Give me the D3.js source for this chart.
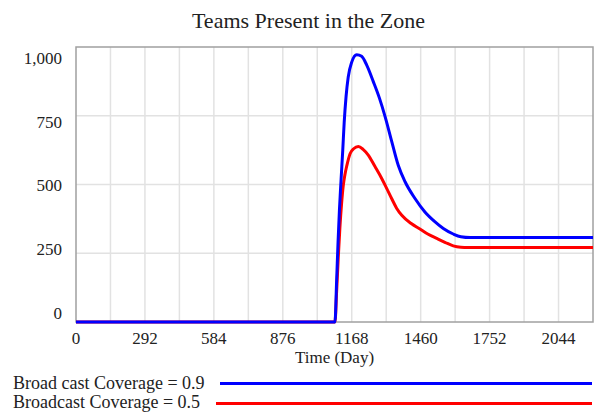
<!DOCTYPE html>
<html>
<head>
<meta charset="utf-8">
<script src="https://cdn.jsdelivr.net/npm/d3@7"></script>
<style>
  html, body { margin: 0; padding: 0; background: #fff; }
  svg { display: block; }
  text { font-family: "Liberation Serif", "Times New Roman", serif; fill: #222; }
</style>
</head>
<body>
<svg id="chart" width="601" height="415"></svg>
<script>
// Simulation output: teams present in the zone over time (days)
const timeHigh = [0, 1097, 1104, 1110, 1116, 1123, 1130, 1136, 1144, 1153, 1168, 1189, 1210, 1231, 1259, 1285, 1309, 1337, 1365, 1394, 1436, 1478, 1521, 1556, 1598, 1630, 1670, 2190];
const teamsHigh = [0, 0, 150, 290, 410, 520, 625, 725, 820, 890, 945, 972, 966, 935, 875, 815, 748, 658, 570, 510, 449, 400, 364, 340, 320, 310, 307, 307];

const timeLow = [0, 1097, 1104, 1111, 1118, 1125, 1132, 1139, 1147, 1161, 1176, 1196, 1216, 1238, 1266, 1295, 1316, 1337, 1358, 1380, 1420, 1457, 1490, 1528, 1565, 1598, 1630, 1660, 2190];
const teamsLow = [0, 0, 110, 235, 345, 430, 495, 535, 568, 612, 630, 638, 628, 607, 566, 522, 486, 449, 414, 388, 358, 338, 320, 304, 289, 277, 272, 271, 271];

const seriesNames = ["Broad cast Coverage = 0.9", "Broadcast Coverage = 0.5"];
const seriesColors = ["#0000ff", "#ff0000"];

const xTicks = [0, 292, 584, 876, 1168, 1460, 1752, 2044];
const xGrid = d3.range(146, 2190, 146);
const yTicks = [0, 250, 500, 750, 1000];
const yTickLabels = ["0", "250", "500", "750", "1,000"];

const titleText = "Teams Present in the Zone";
const xTitle = "Time (Day)";

const svg = d3.select("#chart");

const x = d3.scaleLinear().domain([0, 2190]).range([76, 593]);
const y = d3.scaleLinear().domain([0, 1000]).range([322, 47]);
// tick labels sit inside the span of the axis, top one pulled down, bottom one pushed up
const yLabel = d3.scaleLinear().domain([0, 1000]).range([318.5, 64]);

// grid
const grid = svg.append("g");
grid.selectAll("line.v").data(xGrid).join("line")
  .attr("x1", d => x(d)).attr("x2", d => x(d))
  .attr("y1", y(0)).attr("y2", y(1000))
  .attr("stroke", "#e2e2e2").attr("stroke-width", 1.5);
grid.selectAll("line.h").data([250, 500, 750]).join("line")
  .attr("x1", x(0)).attr("x2", x(2190))
  .attr("y1", d => y(d)).attr("y2", d => y(d))
  .attr("stroke", "#e2e2e2").attr("stroke-width", 1.5);

// frame
svg.append("rect")
  .attr("x", x(0)).attr("y", y(1000))
  .attr("width", x(2190) - x(0)).attr("height", y(0) - y(1000))
  .attr("fill", "none").attr("stroke", "#a0a0a0").attr("stroke-width", 1.5);

// y tick labels
svg.append("g").selectAll("text").data(yTicks).join("text")
  .attr("x", 62).attr("y", d => yLabel(d))
  .attr("text-anchor", "end").attr("font-size", 17)
  .text((d, i) => yTickLabels[i]);

// x tick labels
svg.append("g").selectAll("text").data(xTicks).join("text")
  .attr("x", d => x(d)).attr("y", 344)
  .attr("text-anchor", "middle").attr("font-size", 17)
  .text(d => d);

// x axis title
svg.append("text")
  .attr("x", (x(0) + x(2190)) / 2).attr("y", 363)
  .attr("text-anchor", "middle").attr("font-size", 17)
  .text(xTitle);

// chart title
svg.append("text")
  .attr("x", 308.5).attr("y", 28)
  .attr("text-anchor", "middle").attr("font-size", 22)
  .text(titleText);

// series lines
const line = d3.line()
  .x(d => x(d[0])).y(d => y(d[1]))
  .curve(d3.curveMonotoneX);

const series = [
  { pts: d3.zip(timeLow, teamsLow), color: seriesColors[1] },
  { pts: d3.zip(timeHigh, teamsHigh), color: seriesColors[0] }
];
svg.append("g").selectAll("path").data(series).join("path")
  .attr("d", d => line(d.pts))
  .attr("fill", "none")
  .attr("stroke", d => d.color)
  .attr("stroke-width", 3)
  .attr("stroke-linejoin", "round");

// legend
const legend = svg.append("g");
const legendRows = [
  { name: seriesNames[0], color: seriesColors[0], ty: 389, ly: 383.5, lx: 220 },
  { name: seriesNames[1], color: seriesColors[1], ty: 407.5, ly: 403.5, lx: 216 }
];
legend.selectAll("text").data(legendRows).join("text")
  .attr("x", 13).attr("y", d => d.ty).attr("font-size", 18)
  .text(d => d.name);
legend.selectAll("line").data(legendRows).join("line")
  .attr("x1", d => d.lx).attr("x2", 592)
  .attr("y1", d => d.ly).attr("y2", d => d.ly)
  .attr("stroke", d => d.color).attr("stroke-width", 3);
</script>
</body>
</html>
